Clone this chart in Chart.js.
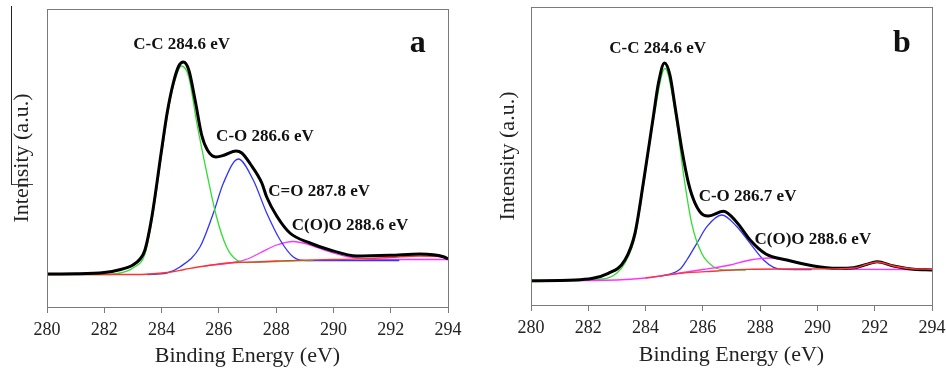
<!DOCTYPE html>
<html>
<head>
<meta charset="utf-8">
<script src="https://cdn.jsdelivr.net/npm/chart.js@4.4.1/dist/chart.umd.min.js"></script>
<style>
  html, body { margin: 0; padding: 0; background: #fff; }
  #wrap { position: relative; width: 946px; height: 370px; overflow: hidden; }
  .panel { position: absolute; top: 0; }
  #panelA { left: 0; }
  #panelB { left: 476px; }
  #mark { position: absolute; left: 11px; top: 6px; width: 21px; height: 178px;
          border-left: 1px solid #222; border-bottom: 1px solid #444; }
</style>
</head>
<body>
<div id="wrap">
  <canvas id="panelA" class="panel" width="470" height="370"></canvas>
  <canvas id="panelB" class="panel" width="477" height="370"></canvas>
  <div id="mark"></div>
</div>
<script>
// x ticks shared by both panels
const energyTicks = [280, 282, 284, 286, 288, 290, 292, 294];

// ---- panel a ----
const aTotalE = [280, 281, 282, 282.5, 283, 283.25, 283.42, 283.66, 284, 284.2, 284.41, 284.6, 284.76, 284.95, 285.17, 285.4, 285.6, 285.9, 286.2, 286.6, 286.8, 287.1, 287.5, 287.67, 288.02, 288.48, 289.18, 289.88, 290.81, 291.98, 293.02, 293.84, 294];
const aTotalI = [33, 33.2, 34.5, 37, 42, 48, 57, 90, 157, 195, 224, 241, 245, 237, 207, 172, 157, 150, 152, 156, 154, 143, 124, 110, 91, 74, 64, 57, 51, 51.7, 53, 50.3, 48];

const aCCE = [280, 282, 282.55, 283, 283.42, 283.66, 284, 284.2, 284.41, 284.7, 284.95, 285.23, 285.58, 285.92, 286.27, 286.62, 287, 287.5, 288, 288.5, 289.3];
const aCCI = [32.5, 32.5, 34, 39, 53, 86, 152, 191, 221, 241, 230, 184, 134, 90, 60, 47, 44.5, 45, 45.5, 46, 46.5];

const aCOE = [283.5, 284.18, 284.64, 285.34, 285.81, 286.16, 286.68, 287.2, 287.67, 288.14, 288.6, 289.07, 290, 291, 292.3];
const aCOI = [32.5, 34, 40, 60, 94, 124, 148, 127, 94, 67, 50, 46.3, 46.5, 46.5, 46.5];

const aCOOE = [285.5, 286.5, 287, 287.43, 288.02, 288.6, 289.18, 289.77, 290.46, 291.16, 292, 294];
const aCOOI = [41, 44.5, 48, 54, 62, 65.5, 62, 56, 50.5, 48, 47.5, 47.5];

const aBaseE = [280, 283, 283.6, 284.2, 284.8, 285.4, 286, 286.6, 287.3, 288, 289, 290, 291, 292, 293, 293.8, 294];
const aBaseI = [32.5, 32.5, 33, 34.5, 37.5, 40.5, 43, 44.5, 45, 46, 46.8, 47.5, 48.2, 49.5, 51, 50, 48];

const aLabels = ['C-C 284.6 eV', 'C-O 286.6 eV', 'C=O 287.8 eV', 'C(O)O 288.6 eV', 'a'];
const aLabelE = [284.70, 287.61, 289.50, 290.58, 292.94];
const aLabelI = [262, 170, 115, 81, 263];

// ---- panel b ----
const bTotalE = [280, 281.54, 282.7, 283.28, 283.63, 283.92, 284.27, 284.45, 284.66, 284.85, 285.03, 285.27, 285.5, 285.73, 286.02, 286.2, 286.72, 287.19, 287.65, 288.2, 288.93, 289.87, 290.68, 291.26, 291.7, 292.08, 292.66, 293.36, 294];
const bTotalI = [24.3, 25, 31.7, 45, 71.7, 121.7, 188.3, 222, 242, 230, 198.3, 155, 121.7, 101.7, 90, 89, 93.7, 82.5, 65, 51, 45, 39, 36.7, 37.3, 40.5, 43.3, 39, 35.7, 35];

const bCCE = [280, 282.5, 283, 283.28, 283.63, 283.92, 284.27, 284.68, 285.09, 285.32, 285.61, 285.96, 286.37, 286.9, 287.5];
const bCCI = [23.5, 26, 32, 42, 68, 118, 184, 236.7, 181.7, 131.7, 81.7, 51.7, 38.3, 35, 35];

const bCOE = [284.5, 285.2, 285.44, 285.79, 286.14, 286.66, 287.19, 287.65, 288.12, 288.47, 288.82, 289.8];
const bCOI = [28.5, 35.7, 45, 61.7, 78.3, 90, 78.3, 61.7, 45, 37.7, 35.7, 35.5];

const bCOOE = [280, 283, 284, 285.2, 286, 286.95, 287.65, 288.35, 288.93, 289.5, 289.87, 290.5, 291.2, 294];
const bCOOI = [24.3, 25, 27, 32, 35.5, 40, 45, 47, 45, 41.5, 39, 36.5, 35.7, 35.5];

const bBaseE = [284, 285.2, 286.5, 287.54, 289, 290.5, 291.3, 291.7, 292.08, 292.66, 293.2, 294];
const bBaseI = [27, 31.7, 34, 35.7, 36, 36.2, 37, 40.5, 43, 39, 36.5, 35.7];

const bLabels = ['C-C 284.6 eV', 'C-O 286.7 eV', 'C(O)O 288.6 eV', 'b'];
const bLabelE = [284.42, 287.56, 289.84, 292.95];
const bLabelI = [256, 108, 65, 261];

function pts(es, is) {
    return es.map((e, i) => ({ x: e, y: is[i] }));
}

function line(es, is, color, width, order) {
    return {
        data: pts(es, is),
        borderColor: color,
        borderWidth: width,
        pointRadius: 0,
        fill: false,
        tension: 0.4,
        cubicInterpolationMode: 'monotone',
        order: order
    };
}

const serif = '"Liberation Serif", "Times New Roman", serif';

// gray box round the plot area
const framePlugin = {
    id: 'frame',
    afterDatasetsDraw(chart) {
        const { ctx, chartArea: a } = chart;
        ctx.save();
        ctx.strokeStyle = '#7a7a7a';
        ctx.lineWidth = 1;
        ctx.strokeRect(Math.round(a.left) + 0.5, Math.round(a.top) + 0.5,
            Math.round(a.right - a.left), Math.round(a.bottom - a.top));
        ctx.restore();
    }
};

// peak names and panel letter, placed in data units
const labelPlugin = {
    id: 'peakLabels',
    afterDatasetsDraw(chart, args, opts) {
        const { ctx, scales } = chart;
        ctx.save();
        ctx.fillStyle = '#111';
        ctx.textAlign = 'center';
        ctx.textBaseline = 'middle';
        opts.texts.forEach((t, i) => {
            const big = t.length === 1;
            ctx.font = 'bold ' + (big ? 32 : 17) + 'px ' + serif;
            ctx.fillText(t, scales.x.getPixelForValue(opts.es[i]), scales.y.getPixelForValue(opts.is[i]));
        });
        ctx.restore();
    }
};

function makePanel(id, datasets, labels, box) {
    new Chart(document.getElementById(id), {
        type: 'line',
        data: { datasets: datasets },
        options: {
            responsive: false,
            animation: false,
            devicePixelRatio: 1,
            layout: { padding: { left: 0, top: box.top, right: box.right, bottom: 0 } },
            plugins: {
                legend: { display: false },
                tooltip: { enabled: false },
                peakLabels: labels
            },
            scales: {
                x: {
                    type: 'linear',
                    min: 280,
                    max: 294,
                    afterBuildTicks: s => { s.ticks = energyTicks.map(v => ({ value: v })); },
                    afterFit: s => { s.height = box.xh; },
                    grid: { display: true, drawOnChartArea: false, drawTicks: true, tickLength: 6, color: '#7a7a7a' },
                    border: { display: true, color: '#7a7a7a' },
                    ticks: { color: '#222', font: { family: serif, size: 18 }, padding: 6, maxRotation: 0, autoSkip: false },
                    title: { display: true, text: 'Binding Energy (eV)', color: '#222',
                             font: { family: serif, size: 22 }, padding: { top: 0, bottom: box.xtb } }
                },
                y: {
                    min: 0,
                    max: 298,
                    afterFit: s => { s.width = box.yw; },
                    grid: { display: false },
                    border: { display: true, color: '#7a7a7a' },
                    ticks: { display: false },
                    title: { display: true, text: 'Intensity (a.u.)', color: '#222',
                             font: { family: serif, size: 22 }, padding: { top: box.ytp, bottom: 0 } }
                }
            }
        },
        plugins: [framePlugin, labelPlugin]
    });
}

makePanel('panelA', [
    line(aTotalE, aTotalI, '#000000', 3, 0),
    line(aCCE, aCCI, '#33dd33', 1.3, 2),
    line(aCOE, aCOI, '#3333ff', 1.3, 2),
    line(aCOOE, aCOOI, '#ff33ff', 1.3, 2),
    line(aBaseE, aBaseI, '#ff3333', 1.3, 1)
], { texts: aLabels, es: aLabelE, is: aLabelI },
   { top: 9, right: 22, xh: 63, yw: 47, xtb: 1, ytp: 9 });

// panel b canvas runs past the page edge so the label overhang of "294" fits
makePanel('panelB', [
    line(bTotalE, bTotalI, '#000000', 3, 0),
    line(bCCE, bCCI, '#33dd33', 1.3, 2),
    line(bCOE, bCOI, '#3333ff', 1.3, 2),
    line(bCOOE, bCOOI, '#ff33ff', 1.3, 1),
    line(bBaseE, bBaseI, '#ff3333', 1.3, -1)
], { texts: bLabels, es: bLabelE, is: bLabelI },
   { top: 7, right: 21, xh: 65, yw: 55, xtb: 2, ytp: 19 });
</script>
</body>
</html>
